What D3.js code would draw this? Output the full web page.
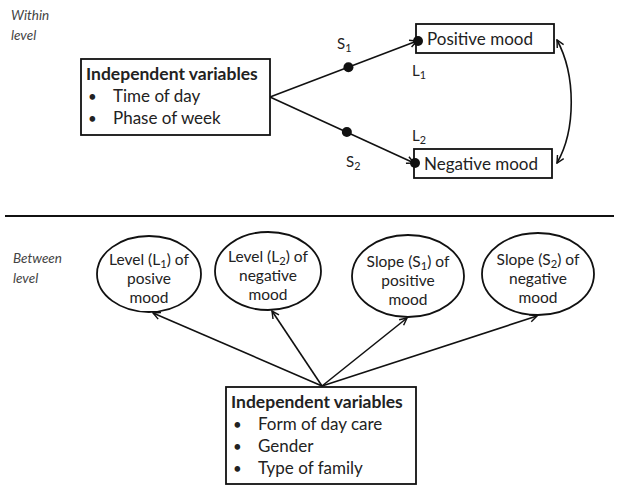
<!DOCTYPE html>
<html>
<head>
<meta charset="utf-8">
<script src="https://cdn.jsdelivr.net/npm/d3@7"></script>
<style>
  body { margin: 0; background: #fff; }
  svg text { font-family: Lato, "Open Sans", sans-serif; fill: #222; }
</style>
</head>
<body>
<svg id="chart" width="619" height="485"></svg>
<script>
// diagram content
var levelNames = ["Within|level", "Between|level"];
var withinPredictors = ["Time of day", "Phase of week"];
var withinOutcomes = ["Positive mood", "Negative mood"];
var slopeLabels = ["S_1", "S_2"];
var interceptLabels = ["L_1", "L_2"];
var betweenOutcomes = [
  "Level (L_1) of|posive|mood",
  "Level (L_2) of|negative|mood",
  "Slope (S_1) of|positive|mood",
  "Slope (S_2) of|negative|mood"
];
var betweenPredictors = ["Form of day care", "Gender", "Type of family"];
var boxTitle = "Independent variables";

var svg = d3.select("#chart");

// layout scales
var outY = d3.scalePoint().domain(withinOutcomes).range([39, 164]);
var ellX = d3.scaleOrdinal().domain(betweenOutcomes).range([149, 268, 408, 538]);
var ellY = d3.scaleOrdinal().domain(betweenOutcomes).range([274, 271, 276, 274]);
var ellRx = d3.scaleOrdinal().domain(betweenOutcomes).range([52, 53, 56, 56]);
var ellRy = d3.scaleOrdinal().domain(betweenOutcomes).range([38, 39, 41, 41]);

svg.append("defs").append("marker")
    .attr("id", "arr")
    .attr("viewBox", "0 0 10 10")
    .attr("refX", 9).attr("refY", 5)
    .attr("markerWidth", 9).attr("markerHeight", 9)
    .attr("markerUnits", "userSpaceOnUse")
    .attr("orient", "auto-start-reverse")
  .append("path")
    .attr("d", "M1,1 L9,5 L1,9")
    .attr("fill", "none").attr("stroke", "#111").attr("stroke-width", 1.6);

// text with _n subscripts
function richText(sel, str) {
  var shift = 0;
  str.split(/(_\d)/).forEach(function(part) {
    if (!part) return;
    if (/^_\d$/.test(part)) {
      sel.append("tspan").attr("dy", 3).attr("font-size", "0.72em").text(part.slice(1));
      shift = -3;
    } else {
      sel.append("tspan").attr("dy", shift).text(part);
      shift = 0;
    }
  });
}

// level labels
levelNames.forEach(function(s, i) {
  var x0 = i ? 13 : 11;
  var t = svg.append("text")
      .attr("x", x0).attr("y", i ? 263 : 20)
      .attr("font-style", "italic").attr("font-size", 13.5).style("fill", "#444");
  s.split("|").forEach(function(w, j) {
    t.append("tspan").attr("x", x0).attr("dy", j ? 20 : 0).text(w);
  });
});

// separator
svg.append("line").attr("x1", 5).attr("x2", 614).attr("y1", 216).attr("y2", 216)
    .attr("stroke", "#111").attr("stroke-width", 2);

// predictor boxes
function predictorBox(x, y, w, h, items, lineGap) {
  svg.append("rect").attr("x", x).attr("y", y).attr("width", w).attr("height", h)
      .attr("fill", "#fff").attr("stroke", "#111").attr("stroke-width", 1.8);
  svg.append("text").attr("x", x + 5).attr("y", y + 21)
      .attr("font-weight", "bold").attr("font-size", 17.5).text(boxTitle);
  items.forEach(function(d, i) {
    var yy = y + 21 + lineGap * (i + 1);
    svg.append("text").attr("x", x + 7).attr("y", yy).attr("font-size", 15).text("\u2022");
    svg.append("text").attr("x", x + 32).attr("y", yy).attr("font-size", 17).text(d);
  });
}

// within level
var branch = [270, 97];
var outX = d3.scaleOrdinal().domain(withinOutcomes).range([418, 415]);
withinOutcomes.forEach(function(d, i) {
  var ex = outX(d), ey = outY(d) + (i ? -1 : 2);
  svg.append("line").attr("x1", branch[0]).attr("y1", branch[1])
      .attr("x2", ex - 1).attr("y2", ey)
      .attr("stroke", "#111").attr("stroke-width", 1.6).attr("marker-end", "url(#arr)");
  var mx = branch[0] + (ex - branch[0]) * 0.53, my = branch[1] + (ey - branch[1]) * 0.53;
  svg.append("circle").attr("cx", mx).attr("cy", my).attr("r", 5).attr("fill", "#111");
  svg.append("rect").attr("x", i ? 414 : 416).attr("y", outY(d) - 15)
      .attr("width", 138).attr("height", 29)
      .attr("fill", "#fff").attr("stroke", "#111").attr("stroke-width", 1.8);
  svg.append("circle").attr("cx", ex).attr("cy", ey).attr("r", 5).attr("fill", "#111");
  svg.append("text").attr("x", ex + 9).attr("y", outY(d) + 6)
      .attr("font-size", 17).text(d);
  richText(svg.append("text").attr("x", i ? 346 : 337).attr("y", i ? 167 : 49).attr("font-size", 15), slopeLabels[i]);
  richText(svg.append("text").attr("x", 412).attr("y", i ? 141 : 76).attr("font-size", 15), interceptLabels[i]);
});

predictorBox(81, 59, 189, 76, withinPredictors, 22);

// covariance between moods
svg.append("path")
    .attr("d", "M557,40 C576,75 576,130 557,163")
    .attr("fill", "none").attr("stroke", "#111").attr("stroke-width", 1.6)
    .attr("marker-start", "url(#arr)").attr("marker-end", "url(#arr)");

// between level
var apex = [322, 386];
betweenOutcomes.forEach(function(d) {
  var cx = ellX(d), cy = ellY(d), ry = ellRy(d);
  svg.append("line").attr("x1", apex[0]).attr("y1", apex[1])
      .attr("x2", cx + (cx < 300 ? 4 : -1)).attr("y2", cy + ry + 1)
      .attr("stroke", "#111").attr("stroke-width", 1.6).attr("marker-end", "url(#arr)");
  svg.append("ellipse").attr("cx", cx).attr("cy", cy).attr("rx", ellRx(d)).attr("ry", ry)
      .attr("fill", "#fff").attr("stroke", "#111").attr("stroke-width", 1.8);
  d.split("|").forEach(function(line, j) {
    richText(svg.append("text").attr("x", cx).attr("y", cy - 9 + j * 19)
        .attr("text-anchor", "middle").attr("font-size", 15.5), line);
  });
});

predictorBox(226, 387, 190, 97, betweenPredictors, 22);
</script>
</body>
</html>
